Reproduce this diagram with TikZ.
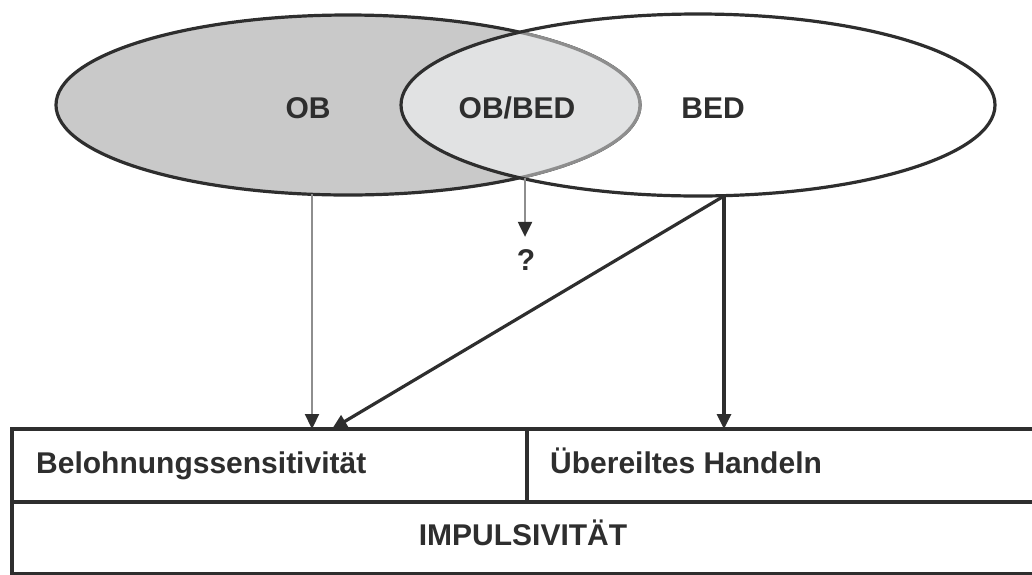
\documentclass[tikz,border=0pt]{standalone}
\usepackage{fontspec}
\setmainfont{Liberation Sans}
\usetikzlibrary{arrows.meta,calc}
\definecolor{obfill}{HTML}{C9C9C9}
\definecolor{mixfill}{HTML}{E1E2E3}
\definecolor{ink}{HTML}{2E2E2E}
\definecolor{softline}{HTML}{8E8E8E}
\begin{document}
\begin{tikzpicture}[x=1pt,y=-1pt,
  txt/.style={font=\fontsize{30}{36}\selectfont\bfseries, text=ink, inner sep=0pt, anchor=base},
  outline/.style={line width=3.2pt, draw=ink},
  cell/.style={draw=ink, line width=3.2pt, inner sep=0pt, outer sep=0pt},
  tip/.style={-{Triangle[length=15pt,width=14pt,color=ink]}},
  strong/.style={line width=3.2pt, draw=ink, tip},
  faint/.style={line width=2.2pt, draw=softline, tip}]
\useasboundingbox (0,0) rectangle (1032,574);

% OB ellipse (filled grey)
\fill[obfill] (348,105) ellipse [x radius=292pt, y radius=90pt];
\draw[outline] (348,105) ellipse [x radius=292pt, y radius=90pt];
% overlap OB/BED: lighter fill, OB outline softened
\begin{scope}
  \clip (698,105) ellipse [x radius=297pt, y radius=91pt];
  \fill[mixfill] (348,105) ellipse [x radius=292pt, y radius=90pt];
  \draw[line width=3.2pt, softline] (348,105) ellipse [x radius=292pt, y radius=90pt];
\end{scope}
% BED ellipse
\draw[outline] (698,105) ellipse [x radius=297pt, y radius=91pt];

\node[txt] (ob) at (308,118) {OB};
\node[txt] (obbed) at (517,118) {OB/BED};
\node[txt] (bed) at (713,118) {BED};
\node[txt] (q) at (526,270) {?};

% feet of the connectors on the ellipse outlines
\coordinate (obfoot) at (312,194);
\coordinate (cross) at (525,178);
\coordinate (bedfoot) at (724,196);

% table (runs on past the right edge of the page)
\node[cell, minimum width=515pt, minimum height=73pt] (reward) at (269.5,465.5) {};
\node[cell, minimum width=510pt, minimum height=73pt] (rash) at (782,465.5) {};
\node[cell, minimum width=1025pt, minimum height=72pt] (impuls) at (524.5,538) {};

\node[txt, anchor=base west] (rewardtxt) at (36,473) {Belohnungssensitivität};
\node[txt, anchor=base west] (rashtxt) at (550,473) {Übereiltes Handeln};
\node[txt] (impulstxt) at (523,545) {IMPULSIVITÄT};

% connectors
\draw[faint] (obfoot) -- (obfoot |- reward.north);
\draw[faint, shorten >=12pt] (cross) -- (cross |- q.north);
\draw[strong] (bedfoot) -- ($(reward.north west)+(320,0)$);
\draw[strong] (bedfoot) -- (bedfoot |- rash.north);
\end{tikzpicture}
\end{document}
